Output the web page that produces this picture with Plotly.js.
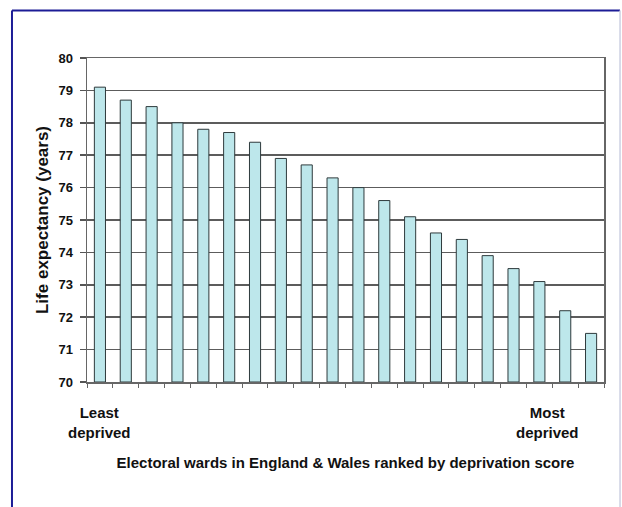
<!DOCTYPE html>
<html>
<head>
<meta charset="utf-8">
<script src="https://cdn.plot.ly/plotly-3.0.1.min.js"></script>
<style>
html,body{margin:0;padding:0;background:#fff;}
#chart{width:622px;height:507px;}
</style>
</head>
<body>
<div id="chart"></div>
<script>
// Data
var wards = ["W1","W2","W3","W4","W5","W6","W7","W8","W9","W10","W11","W12","W13","W14","W15","W16","W17","W18","W19","W20"];
var lifeExpectancy = [79.1, 78.7, 78.5, 78.0, 77.8, 77.7, 77.4, 76.9, 76.7, 76.3, 76.0, 75.6, 75.1, 74.6, 74.4, 73.9, 73.5, 73.1, 72.2, 71.5];
var yTicks = [70, 71, 72, 73, 74, 75, 76, 77, 78, 79, 80];
var endLabels = ["Least<br>deprived", "Most<br>deprived"];
var xTitle = "Electoral wards in England & Wales ranked by deprivation score";
var yTitle = "Life expectancy (years)";

var FONT = "'Liberation Sans', Arial, sans-serif";
var BASE = 70;

var trace = {
  type: "bar",
  x: wards,
  y: lifeExpectancy.map(function(v){ return v - BASE; }),
  base: BASE,
  marker: {color: "#bde7eb", line: {color: "#2e3a3c", width: 1}},
  hoverinfo: "skip"
};

var layout = {
  width: 622,
  height: 507,
  margin: {l: 87, r: 18, t: 58, b: 125},
  paper_bgcolor: "#ffffff",
  plot_bgcolor: "#ffffff",
  showlegend: false,
  bargap: 0.57,
  font: {family: FONT, color: "#111"},
  xaxis: {
    type: "category",
    categoryorder: "array",
    categoryarray: wards,
    range: [-0.5, wards.length - 0.5],
    autorange: false,
    showticklabels: false,
    ticks: "outside",
    tickson: "boundaries",
    ticklen: 4,
    tickcolor: "#666",
    tickwidth: 1,
    showline: true,
    linecolor: "#666",
    linewidth: 1.5,
    mirror: true,
    showgrid: false,
    zeroline: false,
    fixedrange: true,
    title: {text: xTitle, font: {family: FONT, size: 15, color: "#111", weight: "bold"}, standoff: 75}
  },
  yaxis: {
    range: [70, 80],
    autorange: false,
    tickvals: yTicks,
    ticktext: yTicks.map(String),
    ticks: "outside",
    ticklen: 6,
    tickcolor: "#555",
    tickwidth: 1.5,
    ticklabelstandoff: 4,
    tickfont: {family: FONT, size: 13, color: "#111", weight: "bold"},
    showline: true,
    linecolor: "#666",
    linewidth: 1.5,
    mirror: true,
    showgrid: true,
    gridcolor: "#5c5c5c",
    gridwidth: 1.5,
    zeroline: false,
    fixedrange: true,
    title: {text: yTitle, font: {family: FONT, size: 17, color: "#111", weight: "bold"}, standoff: 5}
  },
  annotations: [
    {xref: "x", yref: "paper", x: 0, y: -0.125, text: endLabels[0], showarrow: false, xanchor: "center", yanchor: "middle",
     font: {family: FONT, size: 15, color: "#111", weight: "bold"}},
    {xref: "x", yref: "paper", x: 17.3, y: -0.125, text: endLabels[1], showarrow: false, xanchor: "center", yanchor: "middle",
     font: {family: FONT, size: 15, color: "#111", weight: "bold"}}
  ],
  shapes: [
    {type: "line", xref: "paper", yref: "paper", x0: -0.1451, x1: -0.1451, y0: 1.1466, y1: -0.42, line: {color: "#1c1c96", width: 2}},
    {type: "line", xref: "paper", yref: "paper", x0: -0.1451, x1: 1.031, y0: 1.1466, y1: 1.1466, line: {color: "#1c1c96", width: 2}},
    {type: "line", xref: "paper", yref: "paper", x0: 1.031, x1: 1.031, y0: 1.1466, y1: -0.42, line: {color: "#cdd0e2", width: 1.5}}
  ]
};

Plotly.newPlot("chart", [trace], layout, {staticPlot: true, displayModeBar: false});
</script>
</body>
</html>
